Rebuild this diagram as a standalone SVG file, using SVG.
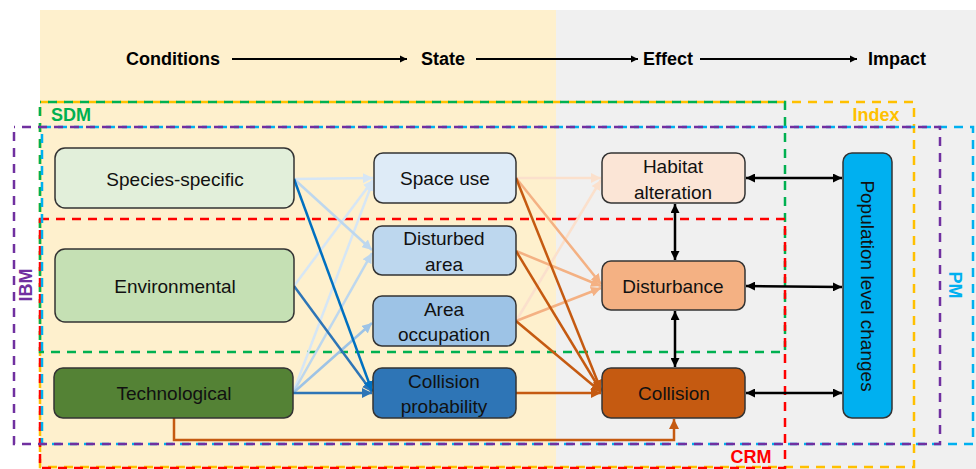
<svg xmlns="http://www.w3.org/2000/svg" width="976" height="469" viewBox="0 0 976 469">
<defs>
<style>
.node{stroke:#333;stroke-width:1.5}
.t{font-family:"Liberation Sans",Arial,sans-serif;font-size:19px;fill:#111;text-anchor:middle;dominant-baseline:central}
.h{font-family:"Liberation Sans",Arial,sans-serif;font-size:18px;font-weight:bold;fill:#000;text-anchor:middle;dominant-baseline:central}
.lab{font-family:"Liberation Sans",Arial,sans-serif;font-size:18px;font-weight:bold;text-anchor:middle;dominant-baseline:central}
.dash{fill:none;stroke-width:2.5;stroke-dasharray:9 7}
.c{fill:none;stroke-width:2.5}
.k{stroke:#000;stroke-width:2.5}
</style>
<marker id="mk" viewBox="0 0 10 10" refX="10" refY="5" markerWidth="3.6" markerHeight="3.6" orient="auto-start-reverse"><path d="M0,0 L10,5 L0,10 z" fill="#000"/></marker>
<marker id="b1" viewBox="0 0 10 10" refX="10" refY="5" markerWidth="4" markerHeight="4" orient="auto"><path d="M0,0 L10,5 L0,10 z" fill="#D6E6F5"/></marker>
<marker id="b2" viewBox="0 0 10 10" refX="10" refY="5" markerWidth="4" markerHeight="4" orient="auto"><path d="M0,0 L10,5 L0,10 z" fill="#BDD7EE"/></marker>
<marker id="b3" viewBox="0 0 10 10" refX="10" refY="5" markerWidth="4" markerHeight="4" orient="auto"><path d="M0,0 L10,5 L0,10 z" fill="#9DC3E6"/></marker>
<marker id="b4" viewBox="0 0 10 10" refX="10" refY="5" markerWidth="4" markerHeight="4" orient="auto"><path d="M0,0 L10,5 L0,10 z" fill="#2E75B6"/></marker>
<marker id="b5" viewBox="0 0 10 10" refX="10" refY="5" markerWidth="4" markerHeight="4" orient="auto"><path d="M0,0 L10,5 L0,10 z" fill="#0070C0"/></marker>
<marker id="o1" viewBox="0 0 10 10" refX="10" refY="5" markerWidth="4" markerHeight="4" orient="auto"><path d="M0,0 L10,5 L0,10 z" fill="#FBE0CC"/></marker>
<marker id="o2" viewBox="0 0 10 10" refX="10" refY="5" markerWidth="4" markerHeight="4" orient="auto"><path d="M0,0 L10,5 L0,10 z" fill="#F4B183"/></marker>
<marker id="o3" viewBox="0 0 10 10" refX="10" refY="5" markerWidth="4" markerHeight="4" orient="auto"><path d="M0,0 L10,5 L0,10 z" fill="#C55A11"/></marker>
</defs>

<g id="background">
<rect x="0" y="0" width="976" height="469" fill="#fff"/>
<rect x="40" y="10" width="516" height="459" fill="#FEF0CD"/>
<rect x="556" y="10" width="420" height="459" fill="#F0F0F0"/>
</g>

<g id="header">
<text class="h" x="173" y="59">Conditions</text>
<text class="h" x="443" y="59">State</text>
<text class="h" x="668" y="59">Effect</text>
<text class="h" x="897" y="59">Impact</text>
<line x1="232" y1="59" x2="407" y2="59" stroke="#000" stroke-width="2" marker-end="url(#mk)"/>
<line x1="476" y1="59" x2="638" y2="59" stroke="#000" stroke-width="2" marker-end="url(#mk)"/>
<line x1="700" y1="59" x2="857" y2="59" stroke="#000" stroke-width="2" marker-end="url(#mk)"/>
</g>

<g id="regions">
<rect class="dash" x="40" y="102" width="874" height="365" stroke="#FFC000"/>
<rect class="dash" x="40" y="102" width="745" height="250" stroke="#00B050" stroke-dashoffset="8"/>
<rect class="dash" x="40" y="219" width="745" height="249" stroke="#FF0000"/>
<rect class="dash" x="42" y="127" width="931" height="317" stroke="#00B0F0"/>
<rect class="dash" x="14" y="127" width="926" height="317" stroke="#7030A0" stroke-dashoffset="8"/>
<text class="lab" x="71" y="115" fill="#00B050">SDM</text>
<text class="lab" x="876" y="115" fill="#FFC000">Index</text>
<text class="lab" x="751" y="457" fill="#FF0000">CRM</text>
<text class="lab" x="0" y="0" fill="#7030A0" transform="translate(26,285) rotate(-90)">IBM</text>
<text class="lab" x="0" y="0" fill="#00B0F0" transform="translate(955,285) rotate(90)">PM</text>
</g>

<g id="connectors">
<line class="c" x1="294" y1="179" x2="373" y2="178" stroke="#D6E6F5" marker-end="url(#b1)"/>
<line class="c" x1="294" y1="286" x2="373" y2="180" stroke="#D6E6F5" marker-end="url(#b1)"/>
<line class="c" x1="293" y1="393" x2="373" y2="181" stroke="#D6E6F5" marker-end="url(#b1)"/>
<line class="c" x1="294" y1="179" x2="372" y2="250" stroke="#BDD7EE" marker-end="url(#b2)"/>
<line class="c" x1="293" y1="393" x2="372" y2="253" stroke="#BDD7EE" marker-end="url(#b2)"/>
<line class="c" x1="293" y1="393" x2="372" y2="323" stroke="#9DC3E6" marker-end="url(#b3)"/>
<line class="c" x1="294" y1="286" x2="372" y2="392" stroke="#2E75B6" marker-end="url(#b4)"/>
<line class="c" x1="293" y1="393" x2="372" y2="393" stroke="#2E75B6" marker-end="url(#b4)"/>
<line class="c" x1="294" y1="179" x2="372" y2="391" stroke="#0070C0" marker-end="url(#b5)"/>

<line class="c" x1="516" y1="178" x2="601" y2="178" stroke="#FBE0CC" marker-end="url(#o1)"/>
<line class="c" x1="516" y1="321" x2="601" y2="180" stroke="#FBE0CC" marker-end="url(#o1)"/>
<line class="c" x1="516" y1="178" x2="601" y2="284" stroke="#F4B183" marker-end="url(#o2)"/>
<line class="c" x1="516" y1="251" x2="601" y2="286" stroke="#F4B183" marker-end="url(#o2)"/>
<line class="c" x1="516" y1="321" x2="601" y2="288" stroke="#F4B183" marker-end="url(#o2)"/>
<line class="c" x1="516" y1="178" x2="601" y2="390" stroke="#C55A11" marker-end="url(#o3)"/>
<line class="c" x1="516" y1="251" x2="601" y2="391" stroke="#C55A11" marker-end="url(#o3)"/>
<line class="c" x1="516" y1="321" x2="601" y2="392" stroke="#C55A11" marker-end="url(#o3)"/>
<line class="c" x1="516" y1="393" x2="601" y2="393" stroke="#C55A11" marker-end="url(#o3)"/>
<polyline class="c" points="174,418 174,440 674,440 674,419" stroke="#C55A11" marker-end="url(#o3)"/>

<line class="k" x1="746" y1="178" x2="842" y2="178" marker-start="url(#mk)" marker-end="url(#mk)"/>
<line class="k" x1="746" y1="286" x2="842" y2="287" marker-start="url(#mk)" marker-end="url(#mk)"/>
<line class="k" x1="746" y1="393" x2="842" y2="393" marker-start="url(#mk)" marker-end="url(#mk)"/>
<line class="k" x1="675" y1="204" x2="675" y2="260" marker-start="url(#mk)" marker-end="url(#mk)"/>
<line class="k" x1="675" y1="311" x2="675" y2="367" marker-start="url(#mk)" marker-end="url(#mk)"/>
</g>

<g id="species-specific"><rect class="node" x="55" y="148" width="239" height="60" rx="10" fill="#E2EFDA"/><text class="t" x="175" y="179">Species-specific</text></g>
<g id="environmental"><rect class="node" x="55" y="249" width="239" height="73" rx="10" fill="#C5E0B4"/><text class="t" x="175" y="286">Environmental</text></g>
<g id="technological"><rect class="node" x="54" y="368" width="239" height="50" rx="9" fill="#548235"/><text class="t" x="174" y="393">Technological</text></g>

<g id="space-use"><rect class="node" x="374" y="153" width="142" height="50" rx="9" fill="#DEEBF7"/><text class="t" x="445" y="178">Space use</text></g>
<g id="disturbed-area"><rect class="node" x="373" y="226" width="143" height="49" rx="9" fill="#BDD7EE"/><text class="t" x="444" y="238">Disturbed</text><text class="t" x="444" y="264">area</text></g>
<g id="area-occupation"><rect class="node" x="373" y="296" width="143" height="50" rx="9" fill="#9DC3E6"/><text class="t" x="444" y="309">Area</text><text class="t" x="444" y="334">occupation</text></g>
<g id="collision-probability"><rect class="node" x="373" y="368" width="143" height="50" rx="9" fill="#2E75B6"/><text class="t" x="444" y="381">Collision</text><text class="t" x="444" y="406">probability</text></g>

<g id="habitat-alteration"><rect class="node" x="602" y="153" width="143" height="50" rx="9" fill="#FBE5D6"/><text class="t" x="673" y="166">Habitat</text><text class="t" x="673" y="192">alteration</text></g>
<g id="disturbance"><rect class="node" x="602" y="261" width="143" height="49" rx="9" fill="#F4B183"/><text class="t" x="673" y="286">Disturbance</text></g>
<g id="collision"><rect class="node" x="602" y="368" width="143" height="50" rx="9" fill="#C55A11"/><text class="t" x="674" y="393">Collision</text></g>

<g id="population-level-changes"><rect class="node" x="843" y="153" width="49" height="265" rx="9" fill="#00B0F0"/><text class="t" x="0" y="0" transform="translate(867,286) rotate(90)">Population level changes</text></g>
</svg>
